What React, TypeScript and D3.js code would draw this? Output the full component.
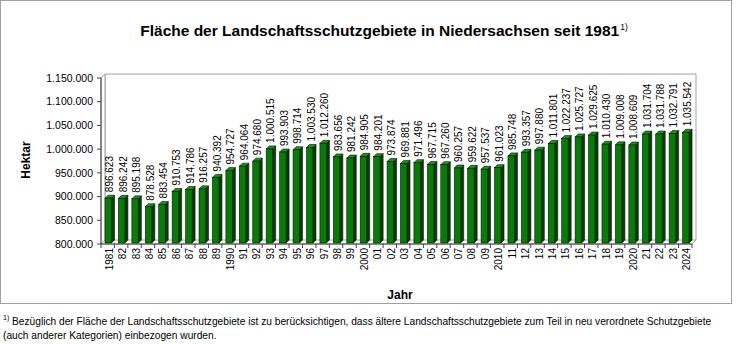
import React, { useEffect } from "react";
import * as d3 from "d3";

const years: string[] = [
  "1981","82","83","84","85","86","87","88","89","1990","91","92","93","94","95","96","97","98","99","2000",
  "01","02","03","04","05","06","07","08","09","2010","11","12","13","14","15","16","17","18","19","2020",
  "21","22","23","2024",
];
const hectares: number[] = [
  896623, 896242, 895198, 878528, 883454, 910753, 914786, 916257, 940392, 954727, 964064, 974680, 1000515,
  993903, 998714, 1003530, 1012260, 983656, 981242, 984905, 984201, 973874, 969881, 971496, 967715, 967260,
  960257, 959622, 957537, 961023, 985748, 993357, 997880, 1011801, 1022237, 1025727, 1029625, 1010430,
  1009008, 1008609, 1031704, 1031788, 1032791, 1035542,
];
const yTicks: number[] = [800000, 850000, 900000, 950000, 1000000, 1050000, 1100000, 1150000];

const FONT = "Arial, 'Liberation Sans', sans-serif";
const fmt = (v: number) => d3.format(",")(v).replace(/,/g, ".");

export default function App() {
  useEffect(() => {
    document.body.style.margin = "0";
  }, []);

  const W = 736, H = 344;
  const left = 101, right = 692, bottom = 244, top = 78;
  const dx = 4, dy = 4; // 3D depth of the plot
  const x = d3.scaleBand<string>().domain(years).range([left, right]).padding(0);
  const y = d3.scaleLinear().domain([800000, 1150000]).range([bottom, top]);
  const bw = 6.5, bd = 3; // bar front width, bar depth
  const base = bottom - 1;

  return (
    <svg width={W} height={H} style={{ position: "absolute", left: 0, top: 0, background: "#fff" }} fontFamily={FONT}>
      <rect x={0.5} y={0.5} width={731} height={303} fill="#fff" stroke="#a0a0a0" strokeWidth={1} />
      {/* title */}
      <text x={384} y={36} textAnchor="middle" fontSize={15.5} fontWeight="bold" fill="#000">
        Fläche der Landschaftsschutzgebiete in Niedersachsen seit 1981
        <tspan fontSize={8.5} fontWeight="normal" dx={1} dy={-6}>1)</tspan>
      </text>

      {/* 3D walls */}
      <path d={`M${left + dx},${bottom - dy}V${y(1150000) - dy}H${right + dx}V${bottom - dy}`} fill="#fff" stroke="#a0a0a0" strokeWidth={1} />
      <path d={`M${left},${bottom}L${left + dx},${bottom - dy}V${y(1150000) - dy}L${left},${y(1150000)}Z`} fill="#fff" stroke="#a0a0a0" strokeWidth={1} />
      <path d={`M${left},${bottom}L${left + dx},${bottom - dy}H${right + dx}L${right},${bottom}Z`} fill="#fff" stroke="#a0a0a0" strokeWidth={1} />

      {/* y axis */}
      <line x1={left} x2={left} y1={top} y2={bottom} stroke="#404040" strokeWidth={1} />
      {yTicks.map((t) => (
        <g key={t}>
          <line x1={left - 4} x2={left} y1={y(t)} y2={y(t)} stroke="#404040" />
          <text x={left - 8} y={y(t)} dy="0.35em" textAnchor="end" fontSize={10.5} fill="#000">{fmt(t)}</text>
        </g>
      ))}
      {/* x axis */}
      <line x1={left} x2={right} y1={bottom} y2={bottom} stroke="#404040" />
      {years.map((yr) => (
        <line key={"t" + yr} x1={x(yr)!} x2={x(yr)!} y1={bottom} y2={bottom + 4} stroke="#404040" />
      ))}
      <line x1={right} x2={right} y1={bottom} y2={bottom + 4} stroke="#404040" />

      {/* bars */}
      {years.map((yr, i) => {
        const v = hectares[i];
        const x0 = x(yr)! + 4;
        const yt = y(v);
        return (
          <g key={yr}>
            <path d={`M${x0 + bw},${base}L${x0 + bw + bd},${base - bd}V${yt - bd}L${x0 + bw},${yt}Z`} fill="#053f05" stroke="#001a00" strokeWidth={0.6} />
            <path d={`M${x0},${yt}L${x0 + bd},${yt - bd}H${x0 + bw + bd}L${x0 + bw},${yt}Z`} fill="#1f8f1f" stroke="#001a00" strokeWidth={0.6} />
            <rect x={x0} y={yt} width={bw} height={base - yt} fill="#0a7a0a" stroke="#001a00" strokeWidth={0.6} />
            <text transform={`translate(${x0 + bw / 2 + 1.5},${yt - 6}) rotate(-90)`} dy="0.35em" fontSize={10} fill="#000">{fmt(v)}</text>
            <text transform={`translate(${x(yr)! + x.bandwidth() / 2 + 1.5},${bottom + 4}) rotate(-90)`} dy="0.35em" textAnchor="end" fontSize={10} fill="#000">{yr}</text>
          </g>
        );
      })}

      {/* axis titles */}
      <text transform="translate(26,160) rotate(-90)" textAnchor="middle" dy="0.35em" fontSize={12} fontWeight="bold">Hektar</text>
      <text x={400} y={299} textAnchor="middle" fontSize={12} fontWeight="bold">Jahr</text>

      {/* footnote */}
      <text x={3} y={320} fontSize={7}>1)</text>
      <text x={12} y={325} fontSize={10.2}>Bezüglich der Fläche der Landschaftsschutzgebiete ist zu berücksichtigen, dass ältere Landschaftsschutzgebiete zum Teil in neu verordnete Schutzgebiete</text>
      <text x={3} y={339} fontSize={10.2}>(auch anderer Kategorien) einbezogen wurden.</text>
    </svg>
  );
}
